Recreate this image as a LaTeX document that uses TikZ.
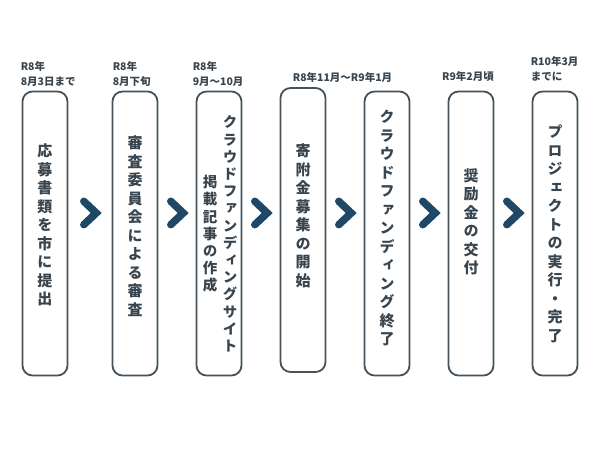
\documentclass[tikz,border=0pt]{standalone}
\usepackage{fontspec}
\newfontfamily\tatefont[RawFeature=+vert]{Noto Sans CJK JP}
\newfontfamily\datefont{Noto Sans CJK JP}
\definecolor{boxline}{HTML}{46535D}
\definecolor{ink}{HTML}{38444E}
\definecolor{navy}{HTML}{1F4866}

\begin{document}
\begin{tikzpicture}[x=1pt,y=1pt,
					node distance=84pt,
					step node/.style={draw=boxline,line width=1.8pt,rounded corners=10pt,
						minimum width=45pt,minimum height=284pt,inner sep=0pt},
					tate node/.style={font=\tatefont\bfseries\fontsize{15}{18.5}\selectfont,
						text=ink,align=center,inner sep=0pt},
					tight tate/.style={font=\tatefont\bfseries\fontsize{14.5}{17.2}\selectfont},
					date node/.style={font=\datefont\bfseries\fontsize{10.5}{15}\selectfont,
						text=ink,align=left,inner sep=0pt},
					chev node/.style={minimum width=12pt,minimum height=23pt,inner sep=0pt},
					chev/.style={draw=navy,line width=7.5pt,line cap=round,line join=miter}]

  \fill[white] (0,0) rectangle (600,450);
  \useasboundingbox (0,0) rectangle (600,450);

  % steps
  \node[step node] (A) at (45,216.5) {};
  \node[step node] (B) [right of=A, xshift=6pt] {};
  \node[step node] (C) [right of=B] {};
  \node[step node] (D) [right of=C, yshift=3.5pt] {};
  \node[step node] (E) [right of=D, yshift=-3.5pt] {};
  \node[step node] (F) [right of=E] {};
  \node[step node] (G) [right of=F] {};

  % texts in the steps
  \node[tate node] (tA) at ([yshift=8.5pt]A.center) {応\\募\\書\\類\\を\\市\\に\\提\\出};
  \node[tate node] (tB) at ([yshift=7.5pt]B.center) {審\\査\\委\\員\\会\\に\\よ\\る\\審\\査};
  \node[tate node,tight tate] (tC) at ([xshift=11pt,yshift=-0.5pt]C.center)
    {ク\\ラ\\ウ\\ド\\フ\\ァ\\ン\\デ\\ィ\\ン\\グ\\サ\\イ\\ト};
  \node[tate node,tight tate] (tCC) at ([xshift=-9pt,yshift=-0.5pt]C.center) {掲\\載\\記\\事\\の\\作\\成};
  \node[tate node] (tD) at ([yshift=14pt]D.center) {寄\\附\\金\\募\\集\\の\\開\\始};
  \node[tate node] (tE) at ([yshift=5.5pt]E.center)
    {ク\\ラ\\ウ\\ド\\フ\\ァ\\ン\\デ\\ィ\\ン\\グ\\終\\了};
  \node[tate node] (tF) at ([yshift=11.5pt]F.center) {奨\\励\\金\\の\\交\\付};
  \node[tate node] (tG) at ([yshift=-0.5pt]G.center) {プ\\ロ\\ジ\\ェ\\ク\\ト\\の\\実\\行\\・\\完\\了};

  % dates
  \node[date node,anchor=south west] (dA) at ([xshift=-1pt,yshift=3.5pt]A.north west) {R8年\\8月3日まで};
  \node[date node,anchor=south west] (dB) at ([xshift=1pt,yshift=3.5pt]B.north west) {R8年\\8月下旬};
  \node[date node,anchor=south west] (dC) at ([xshift=-3pt,yshift=3.5pt]C.north west) {R8年\\9月～10月};
  \node[date node,anchor=south] (dD) at ([xshift=39.5pt,yshift=4.5pt]D.north) {R8年11月～R9年1月};
  \node[date node,anchor=south] (dF) at ([xshift=-3pt,yshift=8.5pt]F.north) {R9年2月頃};
  \node[date node,anchor=south west] (dG) at ([xshift=-1pt,yshift=9pt]G.north west) {R10年3月\\までに};

  % chevrons
  \path (A) -- node[chev node,yshift=20.5pt] (c1) {} (B);
  \path (B) -- node[chev node,yshift=20.5pt] (c2) {} (C);
  \path (C) -- node[chev node,yshift=18.75pt] (c3) {} (D);
  \path (D) -- node[chev node,yshift=18.75pt] (c4) {} (E);
  \path (E) -- node[chev node,yshift=20.5pt] (c5) {} (F);
  \path (F) -- node[chev node,yshift=20.5pt] (c6) {} (G);
  \draw[chev] (c1.north west) -- (c1.east) -- (c1.south west);
  \draw[chev] (c2.north west) -- (c2.east) -- (c2.south west);
  \draw[chev] (c3.north west) -- (c3.east) -- (c3.south west);
  \draw[chev] (c4.north west) -- (c4.east) -- (c4.south west);
  \draw[chev] (c5.north west) -- (c5.east) -- (c5.south west);
  \draw[chev] (c6.north west) -- (c6.east) -- (c6.south west);
\end{tikzpicture}
\end{document}
